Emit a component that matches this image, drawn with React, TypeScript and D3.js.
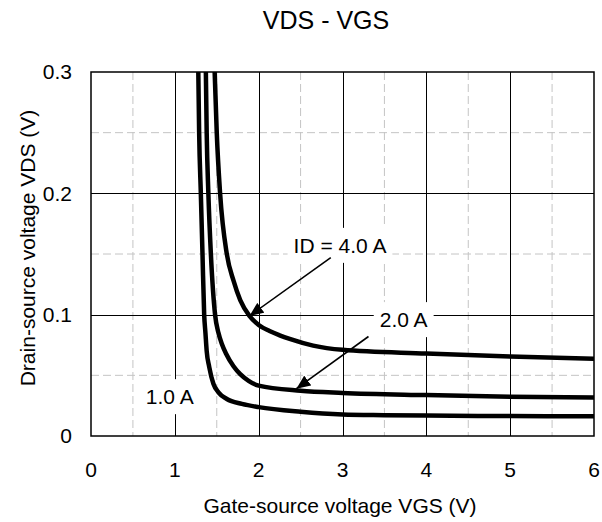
import { useEffect, useRef } from "react";
import * as d3 from "d3";

// ID = 1.0 A
const vgs1 = [1.28, 1.29, 1.31, 1.33, 1.35, 1.365, 1.38, 1.41, 1.46, 1.52, 1.62, 1.8, 2.0, 2.5, 3.0, 3.5, 4.0, 5.0, 6.0];
const vds1 = [0.3, 0.25, 0.2, 0.15, 0.1, 0.085, 0.07, 0.057, 0.043, 0.036, 0.0305, 0.0265, 0.0238, 0.02, 0.0178, 0.0172, 0.0168, 0.0164, 0.0162];

// ID = 2.0 A
const vgs2 = [1.37, 1.38, 1.4, 1.43, 1.48, 1.52, 1.56, 1.61, 1.7, 1.78, 1.88, 2.0, 2.5, 3.0, 4.0, 5.0, 6.0];
const vds2 = [0.3, 0.25, 0.2, 0.15, 0.1, 0.085, 0.076, 0.068, 0.0575, 0.051, 0.0455, 0.0415, 0.0373, 0.0355, 0.0337, 0.0323, 0.0318];

// ID = 4.0 A
const vgs4 = [1.475, 1.5, 1.54, 1.62, 1.7, 1.78, 1.89, 2.0, 2.13, 2.25, 2.37, 2.65, 3.0, 4.0, 5.0, 6.0];
const vds4 = [0.3, 0.25, 0.2, 0.15, 0.128, 0.112, 0.099, 0.0915, 0.0865, 0.083, 0.08, 0.0745, 0.071, 0.068, 0.0655, 0.0637];

const xTicks = [0, 1, 2, 3, 4, 5, 6];
const yTicks = [0, 0.1, 0.2, 0.3];
const yTickLabels = ["0", "0.1", "0.2", "0.3"];
const xMinor = [0.5, 1.5, 2.5, 3.5, 4.5, 5.5];
const yMinor = [0.05, 0.15, 0.25];

const labelTexts = ["ID = 4.0 A", "2.0 A", "1.0 A"];
const labelX = [2.97, 3.73, 0.94];
const labelY = [0.157, 0.0958, 0.0323];

// arrows: start (near label) -> tip (on curve)
const arrowX1 = [2.86, 3.31];
const arrowY1 = [0.147, 0.082];
const arrowX2 = [1.89, 2.45];
const arrowY2 = [0.099, 0.039];

const FONT = "'Liberation Sans', Arial, sans-serif";

export default function App() {
  const ref = useRef<SVGSVGElement>(null);

  useEffect(() => {
    if (!ref.current) return;
    const svg = d3.select(ref.current);
    svg.selectAll("*").remove();

    const left = 91, right = 594, top = 72, bottom = 436;
    const x = d3.scaleLinear().domain([0, 6]).range([left, right]);
    const y = d3.scaleLinear().domain([0, 0.3]).range([bottom, top]);

    const defs = svg.append("defs");
    defs
      .append("clipPath")
      .attr("id", "plot-clip")
      .append("rect")
      .attr("x", left)
      .attr("y", top)
      .attr("width", right - left)
      .attr("height", bottom - top);

    defs
      .append("marker")
      .attr("id", "arrow-head")
      .attr("markerUnits", "userSpaceOnUse")
      .attr("viewBox", "0 0 14 12")
      .attr("refX", 14)
      .attr("refY", 6)
      .attr("markerWidth", 14)
      .attr("markerHeight", 12)
      .attr("orient", "auto")
      .append("path")
      .attr("d", "M0,0 L14,6 L0,12 Z")
      .attr("fill", "#000");

    svg.append("rect").attr("width", 602).attr("height", 522).attr("fill", "#fff");

    // minor dashed grid
    const grid = svg.append("g");
    grid
      .selectAll(".vminor")
      .data(xMinor)
      .enter()
      .append("line")
      .attr("x1", (d) => x(d))
      .attr("x2", (d) => x(d))
      .attr("y1", top)
      .attr("y2", bottom)
      .attr("stroke", "#c4c4c4")
      .attr("stroke-dasharray", "8,4");
    grid
      .selectAll(".hminor")
      .data(yMinor)
      .enter()
      .append("line")
      .attr("x1", left)
      .attr("x2", right)
      .attr("y1", (d) => y(d))
      .attr("y2", (d) => y(d))
      .attr("stroke", "#c4c4c4")
      .attr("stroke-dasharray", "8,4");

    // major solid grid
    grid
      .selectAll(".vmajor")
      .data(xTicks.slice(1, -1))
      .enter()
      .append("line")
      .attr("x1", (d) => Math.round(x(d)) + 0.5)
      .attr("x2", (d) => Math.round(x(d)) + 0.5)
      .attr("y1", top)
      .attr("y2", bottom)
      .attr("stroke", "#000");
    grid
      .selectAll(".hmajor")
      .data(yTicks.slice(1, -1))
      .enter()
      .append("line")
      .attr("x1", left)
      .attr("x2", right)
      .attr("y1", (d) => Math.round(y(d)) + 0.5)
      .attr("y2", (d) => Math.round(y(d)) + 0.5)
      .attr("stroke", "#000");

    // labels with white boxes
    const labels = svg.append("g");
    labelTexts.forEach((t, i) => {
      const g = labels.append("g");
      const box = g.append("rect").attr("fill", "#fff");
      const txt = g
        .append("text")
        .attr("x", x(labelX[i]))
        .attr("y", y(labelY[i]))
        .attr("dy", "0.35em")
        .attr("text-anchor", "middle")
        .attr("font-family", FONT)
        .attr("font-size", 21)
        .attr("fill", "#000")
        .text(t);
      const bb = (txt.node() as SVGTextElement).getBBox();
      box
        .attr("x", bb.x - 6)
        .attr("y", bb.y - 6)
        .attr("width", bb.width + 12)
        .attr("height", bb.height + 12);
    });

    // curves
    const line = d3
      .line<[number, number]>()
      .x((d) => x(d[0]))
      .y((d) => y(d[1]))
      .curve(d3.curveMonotoneX);

    const series: [number, number][][] = [
      vgs1.map((v, i) => [v, vds1[i]]),
      vgs2.map((v, i) => [v, vds2[i]]),
      vgs4.map((v, i) => [v, vds4[i]]),
    ];

    svg
      .append("g")
      .attr("clip-path", "url(#plot-clip)")
      .selectAll("path")
      .data(series)
      .enter()
      .append("path")
      .attr("d", (d) => line(d) || "")
      .attr("fill", "none")
      .attr("stroke", "#000")
      .attr("stroke-width", 4.5)
      .attr("stroke-linejoin", "round");

    // arrows
    svg
      .append("g")
      .selectAll("line")
      .data(arrowX1)
      .enter()
      .append("line")
      .attr("x1", (d) => x(d))
      .attr("y1", (_, i) => y(arrowY1[i]))
      .attr("x2", (_, i) => x(arrowX2[i]))
      .attr("y2", (_, i) => y(arrowY2[i]))
      .attr("stroke", "#000")
      .attr("stroke-width", 1.6)
      .attr("marker-end", "url(#arrow-head)");

    // frame
    svg
      .append("rect")
      .attr("x", left)
      .attr("y", top)
      .attr("width", right - left)
      .attr("height", bottom - top)
      .attr("fill", "none")
      .attr("stroke", "#000")
      .attr("stroke-width", 1.5);

    // tick labels
    svg
      .append("g")
      .selectAll("text")
      .data(xTicks)
      .enter()
      .append("text")
      .attr("x", (d) => x(d))
      .attr("y", 477)
      .attr("text-anchor", "middle")
      .attr("font-family", FONT)
      .attr("font-size", 21)
      .attr("fill", "#000")
      .text((d) => String(d));

    svg
      .append("g")
      .selectAll("text")
      .data(yTicks)
      .enter()
      .append("text")
      .attr("x", 72)
      .attr("y", (d) => y(d))
      .attr("dy", "0.35em")
      .attr("text-anchor", "end")
      .attr("font-family", FONT)
      .attr("font-size", 21)
      .attr("fill", "#000")
      .text((_, i) => yTickLabels[i]);

    // axis titles
    svg
      .append("text")
      .attr("x", 340)
      .attr("y", 513)
      .attr("text-anchor", "middle")
      .attr("font-family", FONT)
      .attr("font-size", 21)
      .attr("fill", "#000")
      .text("Gate-source voltage VGS (V)");

    svg
      .append("text")
      .attr("transform", "translate(35,248) rotate(-90)")
      .attr("text-anchor", "middle")
      .attr("font-family", FONT)
      .attr("font-size", 21)
      .attr("fill", "#000")
      .text("Drain-source voltage VDS (V)");

    svg
      .append("text")
      .attr("x", 326)
      .attr("y", 29)
      .attr("text-anchor", "middle")
      .attr("font-family", FONT)
      .attr("font-size", 25)
      .attr("fill", "#000")
      .text("VDS - VGS");
  }, []);

  return (
    <svg
      ref={ref}
      width={602}
      height={522}
      style={{ position: "absolute", left: 0, top: 0 }}
    />
  );
}
